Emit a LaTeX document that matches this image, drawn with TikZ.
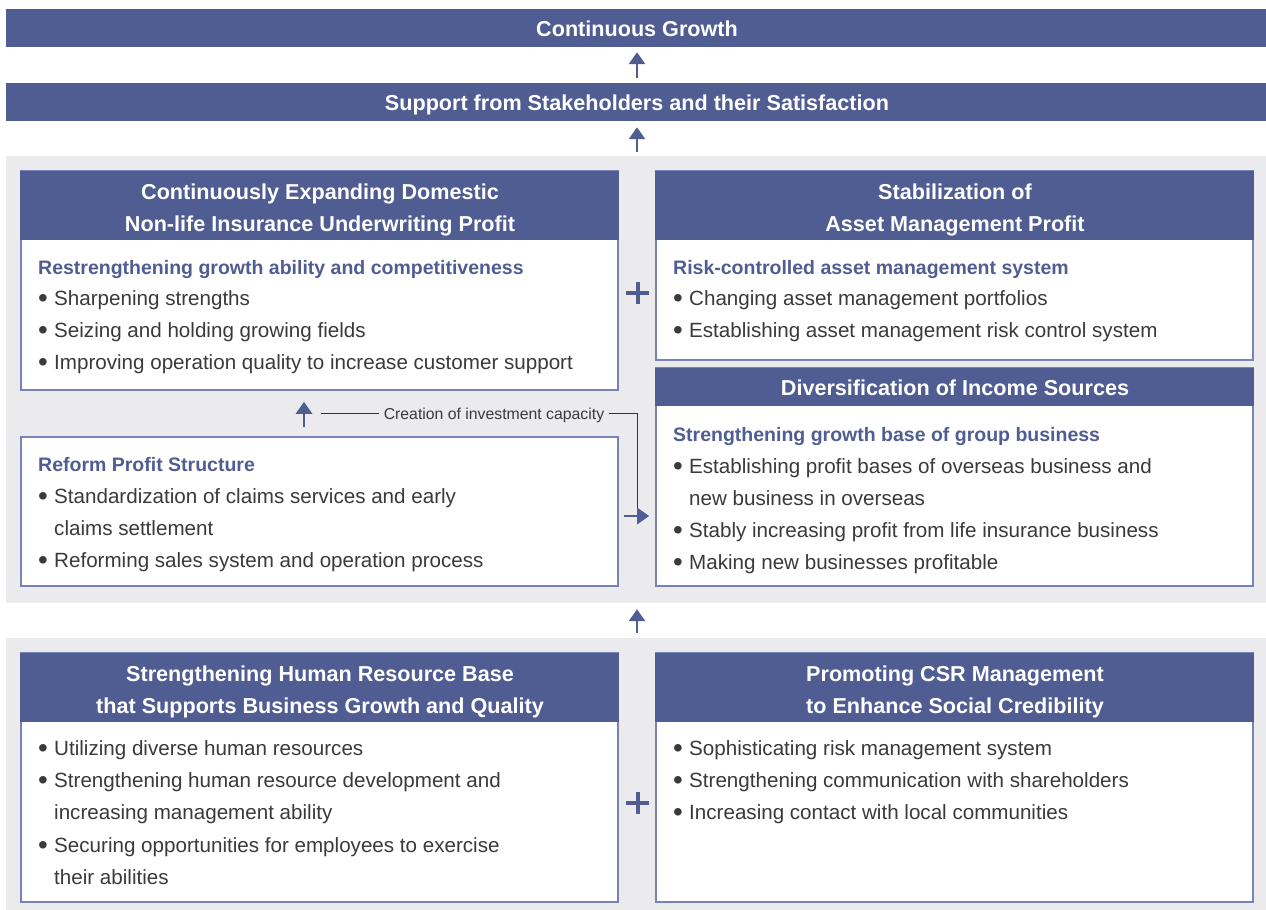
\documentclass[tikz,border=0pt]{standalone}
\usepackage{fontspec}
\setmainfont{Liberation Sans}
\usetikzlibrary{arrows.meta,calc}
\definecolor{hdr}{HTML}{505D92}
\definecolor{panelgray}{HTML}{EBEBEE}
\definecolor{bord}{HTML}{7682B8}
\definecolor{bodytext}{HTML}{3A3A3A}
\definecolor{thinline}{HTML}{333333}
\tikzset{
  bar/.style={rectangle, fill=hdr, inner sep=0pt, minimum width=1260pt},
  panel/.style={rectangle, fill=panelgray, inner sep=0pt, minimum width=1260pt},
  boxw/.style={rectangle, fill=white, draw=bord, line width=1.6pt, inner sep=0pt, minimum width=597pt},
  hbox/.style={rectangle, fill=hdr, inner sep=0pt, minimum width=598.6pt},
  htext/.style={text=white, inner sep=0pt, font=\fontsize{21.6}{26}\selectfont\bfseries},
  sub/.style={text=hdr, inner sep=0pt, font=\fontsize{19.5}{23}\selectfont\bfseries},
  body/.style={text=bodytext, inner sep=0pt, font=\fontsize{20.6}{24}\selectfont},
  small/.style={text=bodytext, inner sep=0pt, font=\fontsize{15.8}{19}\selectfont},
  arr/.style={draw=hdr, line width=2.8pt, -{Triangle[width=16pt,length=12pt]}},
  plusmark/.style={draw=hdr, line width=4pt},
  capline/.style={draw=thinline, line width=0.9pt}
}
\newcommand\mytxt[5]{\node[#2,anchor=base west] (#1) at (#3,#4) {#5};}
\newcommand\myctr[5]{\node[#2,anchor=base] (#1) at (#3,#4) {#5};}
\newcommand\bul{\makebox[16pt][l]{\raisebox{-0.11em}{\scalebox{1.35}{\textbullet}}}}
\newcommand\nobul{\hspace*{16pt}}
\begin{document}
\begin{tikzpicture}[x=1pt,y=-1pt]
\useasboundingbox (0,0) rectangle (1266,910);
% top bars
\node[bar, minimum height=38pt] (growth) at (636,28) {};
\myctr{growthT}{htext}{637}{36}{Continuous Growth}
\node[bar, minimum height=38pt] (support) at (636,102) {};
\myctr{supportT}{htext}{637}{110}{Support from Stakeholders and their Satisfaction}
% panels
\node[panel, minimum height=447pt] (panel1) at (636,379.5) {};
\node[panel, minimum height=272pt] (panel2) at (636,774) {};
% arrows between bars
\draw[arr, shorten <=5pt, shorten >=5pt] ([xshift=1pt]support.north) -- ([xshift=1pt]growth.south);
\draw[arr, shorten <=4pt, shorten >=6pt] ([xshift=1pt]panel1.north) -- ([xshift=1pt]support.south);
\draw[arr, shorten <=5pt, shorten >=6pt] ([xshift=1pt]panel2.north) -- ([xshift=1pt]panel1.south);
% box A
\node[boxw, minimum height=219pt] (boxA) at (319.5,280.5) {};
\node[hbox, minimum height=69pt] (hA) at (319.5,205.5) {};
\myctr{hA1}{htext}{320}{199}{Continuously Expanding Domestic}
\myctr{hA2}{htext}{320}{231}{Non-life Insurance Underwriting Profit}
\mytxt{a0}{sub}{38}{274}{Restrengthening growth ability and competitiveness}
\mytxt{a1}{body}{38}{305}{\bul Sharpening strengths}
\mytxt{a2}{body}{38}{337}{\bul Seizing and holding growing fields}
\mytxt{a3}{body}{38}{369}{\bul Improving operation quality to increase customer support}
% box B
\node[boxw, minimum height=189pt] (boxB) at (954.5,265.5) {};
\node[hbox, minimum height=69pt] (hB) at (954.5,205.5) {};
\myctr{hB1}{htext}{955}{199}{Stabilization of}
\myctr{hB2}{htext}{955}{231}{Asset Management Profit}
\mytxt{b0}{sub}{673}{274}{Risk-controlled asset management system}
\mytxt{b1}{body}{673}{305}{\bul Changing asset management portfolios}
\mytxt{b2}{body}{673}{337}{\bul Establishing asset management risk control system}
% plus 1
\draw[plusmark] (626,293) -- (649,293) (637.5,282) -- (637.5,304);
% box C
\node[boxw, minimum height=218pt] (boxC) at (954.5,477) {};
\node[hbox, minimum height=38pt] (hC) at (954.5,387) {};
\myctr{hC1}{htext}{955}{395}{Diversification of Income Sources}
\mytxt{c0}{sub}{673}{441}{Strengthening growth base of group business}
\mytxt{c1}{body}{673}{473}{\bul Establishing profit bases of overseas business and}
\mytxt{c2}{body}{673}{505}{\nobul new business in overseas}
\mytxt{c3}{body}{673}{537}{\bul Stably increasing profit from life insurance business}
\mytxt{c4}{body}{673}{569}{\bul Making new businesses profitable}
% box D
\node[boxw, minimum height=149pt] (boxD) at (319.5,511.5) {};
\mytxt{d0}{sub}{38}{471}{Reform Profit Structure}
\mytxt{d1}{body}{38}{503}{\bul Standardization of claims services and early}
\mytxt{d2}{body}{38}{535}{\nobul claims settlement}
\mytxt{d3}{body}{38}{567}{\bul Reforming sales system and operation process}
% investment capacity connector
\draw[arr, shorten <=9pt, shorten >=11pt] ([xshift=-15.5pt]boxD.north) -- ([xshift=-15.5pt]boxA.south);
\node[small, anchor=base] (cap) at (494,419) {Creation of investment capacity};
\coordinate (capL) at (321,413);
\coordinate (capR) at (637,509);
\draw[capline] ([xshift=-5pt]cap.west |- capL) -- (capL);
\draw[capline] ([xshift=5pt]cap.east |- capL) -| (capR);
\draw[arr, shorten <=5pt, shorten >=6pt] ($(boxD.east)+(0,4.5)$) -- ($(boxC.west |- boxD.east)+(0,4.5)$);
% box E
\node[boxw, minimum height=249pt] (boxE) at (319.5,777.5) {};
\node[hbox, minimum height=69pt] (hE) at (319.5,687.5) {};
\myctr{hE1}{htext}{320}{681}{Strengthening Human Resource Base}
\myctr{hE2}{htext}{320}{713}{that Supports Business Growth and Quality}
\mytxt{e1}{body}{38}{755}{\bul Utilizing diverse human resources}
\mytxt{e2}{body}{38}{787}{\bul Strengthening human resource development and}
\mytxt{e3}{body}{38}{819}{\nobul increasing management ability}
\mytxt{e4}{body}{38}{852}{\bul Securing opportunities for employees to exercise}
\mytxt{e5}{body}{38}{884}{\nobul their abilities}
% box F
\node[boxw, minimum height=249pt] (boxF) at (954.5,777.5) {};
\node[hbox, minimum height=69pt] (hF) at (954.5,687.5) {};
\myctr{hF1}{htext}{955}{681}{Promoting CSR Management}
\myctr{hF2}{htext}{955}{713}{to Enhance Social Credibility}
\mytxt{f1}{body}{673}{755}{\bul Sophisticating risk management system}
\mytxt{f2}{body}{673}{787}{\bul Strengthening communication with shareholders}
\mytxt{f3}{body}{673}{819}{\bul Increasing contact with local communities}
% plus 2
\draw[plusmark] (626,803) -- (649,803) (637.5,792) -- (637.5,814);
\end{tikzpicture}
\end{document}
